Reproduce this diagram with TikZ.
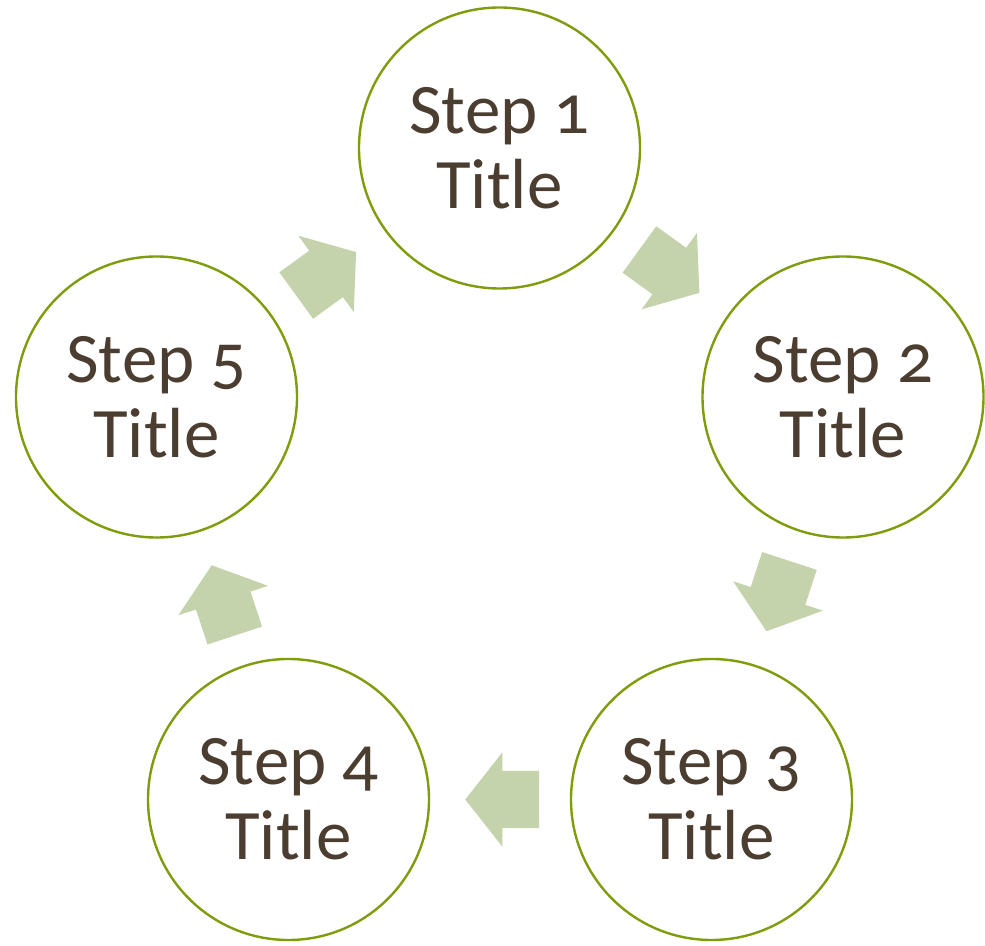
\documentclass[tikz,border=0pt]{standalone}
\usepackage{fontspec}
\setmainfont[Numbers=OldStyle]{Carlito}
\usetikzlibrary{shapes.arrows}
\definecolor{ringcol}{HTML}{7F9C0C}
\definecolor{txtcol}{HTML}{4B3D30}
\definecolor{arrcol}{HTML}{C4D3AC}
\tikzset{
  stepcircle/.style={circle, draw=ringcol, line width=2.4pt, fill=white,
    minimum size=281pt, inner sep=0pt, align=center, text=txtcol,
    font=\fontsize{71}{75}\selectfont},
  blockarrow/.style={single arrow, fill=arrcol, draw=none, inner sep=0pt,
    inner ysep=28.5pt, inner xsep=0pt, minimum height=74pt,
    single arrow head extend=18.5pt, single arrow tip angle=103.6,
    sloped, allow upside down, pos=0.468}
}
\begin{document}
\begin{tikzpicture}[x=1pt,y=1pt]
\useasboundingbox (0,0) rectangle (985,945);
\node[stepcircle] (s1) at (499.5,797) {Step 1\\Title};
\node[stepcircle] (s2) at (843,548) {Step 2\\Title};
\node[stepcircle] (s3) at (711.5,145.5) {Step 3\\Title};
\node[stepcircle] (s4) at (288.5,145.5) {Step 4\\Title};
\node[stepcircle] (s5) at (156.5,548) {Step 5\\Title};
\path (s1.center) -- (s2.center) node[blockarrow] (a12) {};
\path (s2.center) -- (s3.center) node[blockarrow] (a23) {};
\path (s3.center) -- (s4.center) node[blockarrow] (a34) {};
\path (s4.center) -- (s5.center) node[blockarrow] (a45) {};
\path (s5.center) -- (s1.center) node[blockarrow] (a51) {};
\end{tikzpicture}
\end{document}
